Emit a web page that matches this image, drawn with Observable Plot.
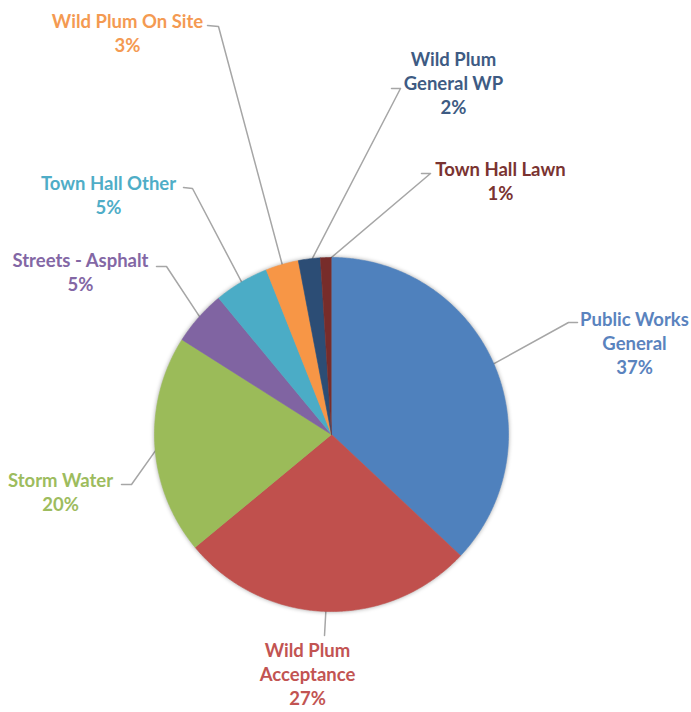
<!DOCTYPE html>
<html><head><meta charset="utf-8">
<script src="https://cdn.jsdelivr.net/npm/d3@7"></script>
<script src="https://cdn.jsdelivr.net/npm/@observablehq/plot@0.6"></script>
<style>body{margin:0;background:#fff}</style>
</head><body><div id="chart"></div>
<script>
// ---- data ----
const categories = ["Public Works General", "Wild Plum Acceptance", "Storm Water", "Streets - Asphalt", "Town Hall Other", "Wild Plum On Site", "Wild Plum General WP", "Town Hall Lawn"];
const labelLines = [["Public Works", "General"], ["Wild Plum", "Acceptance"], ["Storm Water"], ["Streets - Asphalt"], ["Town Hall Other"], ["Wild Plum On Site"], ["Wild Plum", "General WP"], ["Town Hall Lawn"]];
const shares = [37, 27, 20, 5, 5, 3, 2, 1];
const sliceColors = ["#4F81BD", "#C0504D", "#9BBB59", "#8064A2", "#4BACC6", "#F79646", "#2C4D75", "#772C2A"];
const labelColors = ["#5A83BE", "#C25452", "#9DBC5E", "#8367A5", "#4FADC7", "#F49A52", "#3E5B83", "#7A3331"];

// ---- layout ----
const W = 691, H = 712;
const pie = {cx: 331, cy: 434, r: 177};
const labelLayout = [
  {x: 634, y: 342, elbow: [568, 322], end: [577, 322]},
  {x: 307, y: 673, elbow: [324, 635], end: [324, 635]},
  {x: 60,  y: 491, elbow: [131, 484], end: [121, 484]},
  {x: 80,  y: 271, elbow: [166, 266], end: [156, 266]},
  {x: 108, y: 194, elbow: [192, 188], end: [183, 187]},
  {x: 127, y: 32,  elbow: [218, 26],  end: [207, 25]},
  {x: 453, y: 82,  elbow: [400, 88],  end: [391, 88]},
  {x: 500, y: 180, elbow: [430, 173], end: [421, 173]}
];

const arcs = d3.pie().sort(null).value(d => d)(shares);
const polar = (a, k) => [pie.cx + pie.r * k * Math.sin(a), pie.cy - pie.r * k * Math.cos(a)];

const slicePts = [];
arcs.forEach((a, i) => {
  const n = Math.max(2, Math.ceil((a.endAngle - a.startAngle) / (Math.PI / 360)));
  slicePts.push({name: categories[i], color: sliceColors[i], x: pie.cx, y: pie.cy});
  for (let j = 0; j <= n; j++) {
    const t = a.startAngle + (a.endAngle - a.startAngle) * j / n;
    const [x, y] = polar(t, 1);
    slicePts.push({name: categories[i], color: sliceColors[i], x, y});
  }
});

const leaderPts = [];
arcs.forEach((a, i) => {
  const mid = (a.startAngle + a.endAngle) / 2;
  const [x0, y0] = polar(mid, 0.975);
  const L = labelLayout[i];
  leaderPts.push({name: categories[i], x: x0, y: y0});
  leaderPts.push({name: categories[i], x: L.elbow[0], y: L.elbow[1]});
  leaderPts.push({name: categories[i], x: L.end[0], y: L.end[1]});
});

const labels = categories.map((c, i) => ({
  name: c,
  text: [...labelLines[i], shares[i] + "%"].join("\n"),
  color: labelColors[i],
  x: labelLayout[i].x,
  y: labelLayout[i].y
}));

const chart = Plot.plot({
  width: W, height: H,
  margin: 0,
  x: {domain: [0, W], range: [0, W], axis: null},
  y: {domain: [0, H], range: [0, H], axis: null},
  color: {type: "identity"},
  marks: [
    Plot.line(leaderPts, {x: "x", y: "y", z: "name", stroke: "#A6A6A6", strokeWidth: 1.5, curve: "linear"}),
    Plot.line(slicePts, {x: "x", y: "y", z: "name", fill: "color", stroke: "color", strokeWidth: 0.6, curve: "linear"}),
    Plot.text(labels, {x: "x", y: "y", text: "text", fill: "color", fontSize: 18.5, fontWeight: "bold", fontFamily: "Lato", lineHeight: 1.3, textAnchor: "middle", lineAnchor: "middle"})
  ]
});
document.getElementById("chart").appendChild(chart);
const g = chart.querySelectorAll('g[aria-label="line"]')[1];
if (g) g.style.filter = "drop-shadow(0px 0px 2px rgba(0,0,0,0.35))";
</script>
</body></html>
